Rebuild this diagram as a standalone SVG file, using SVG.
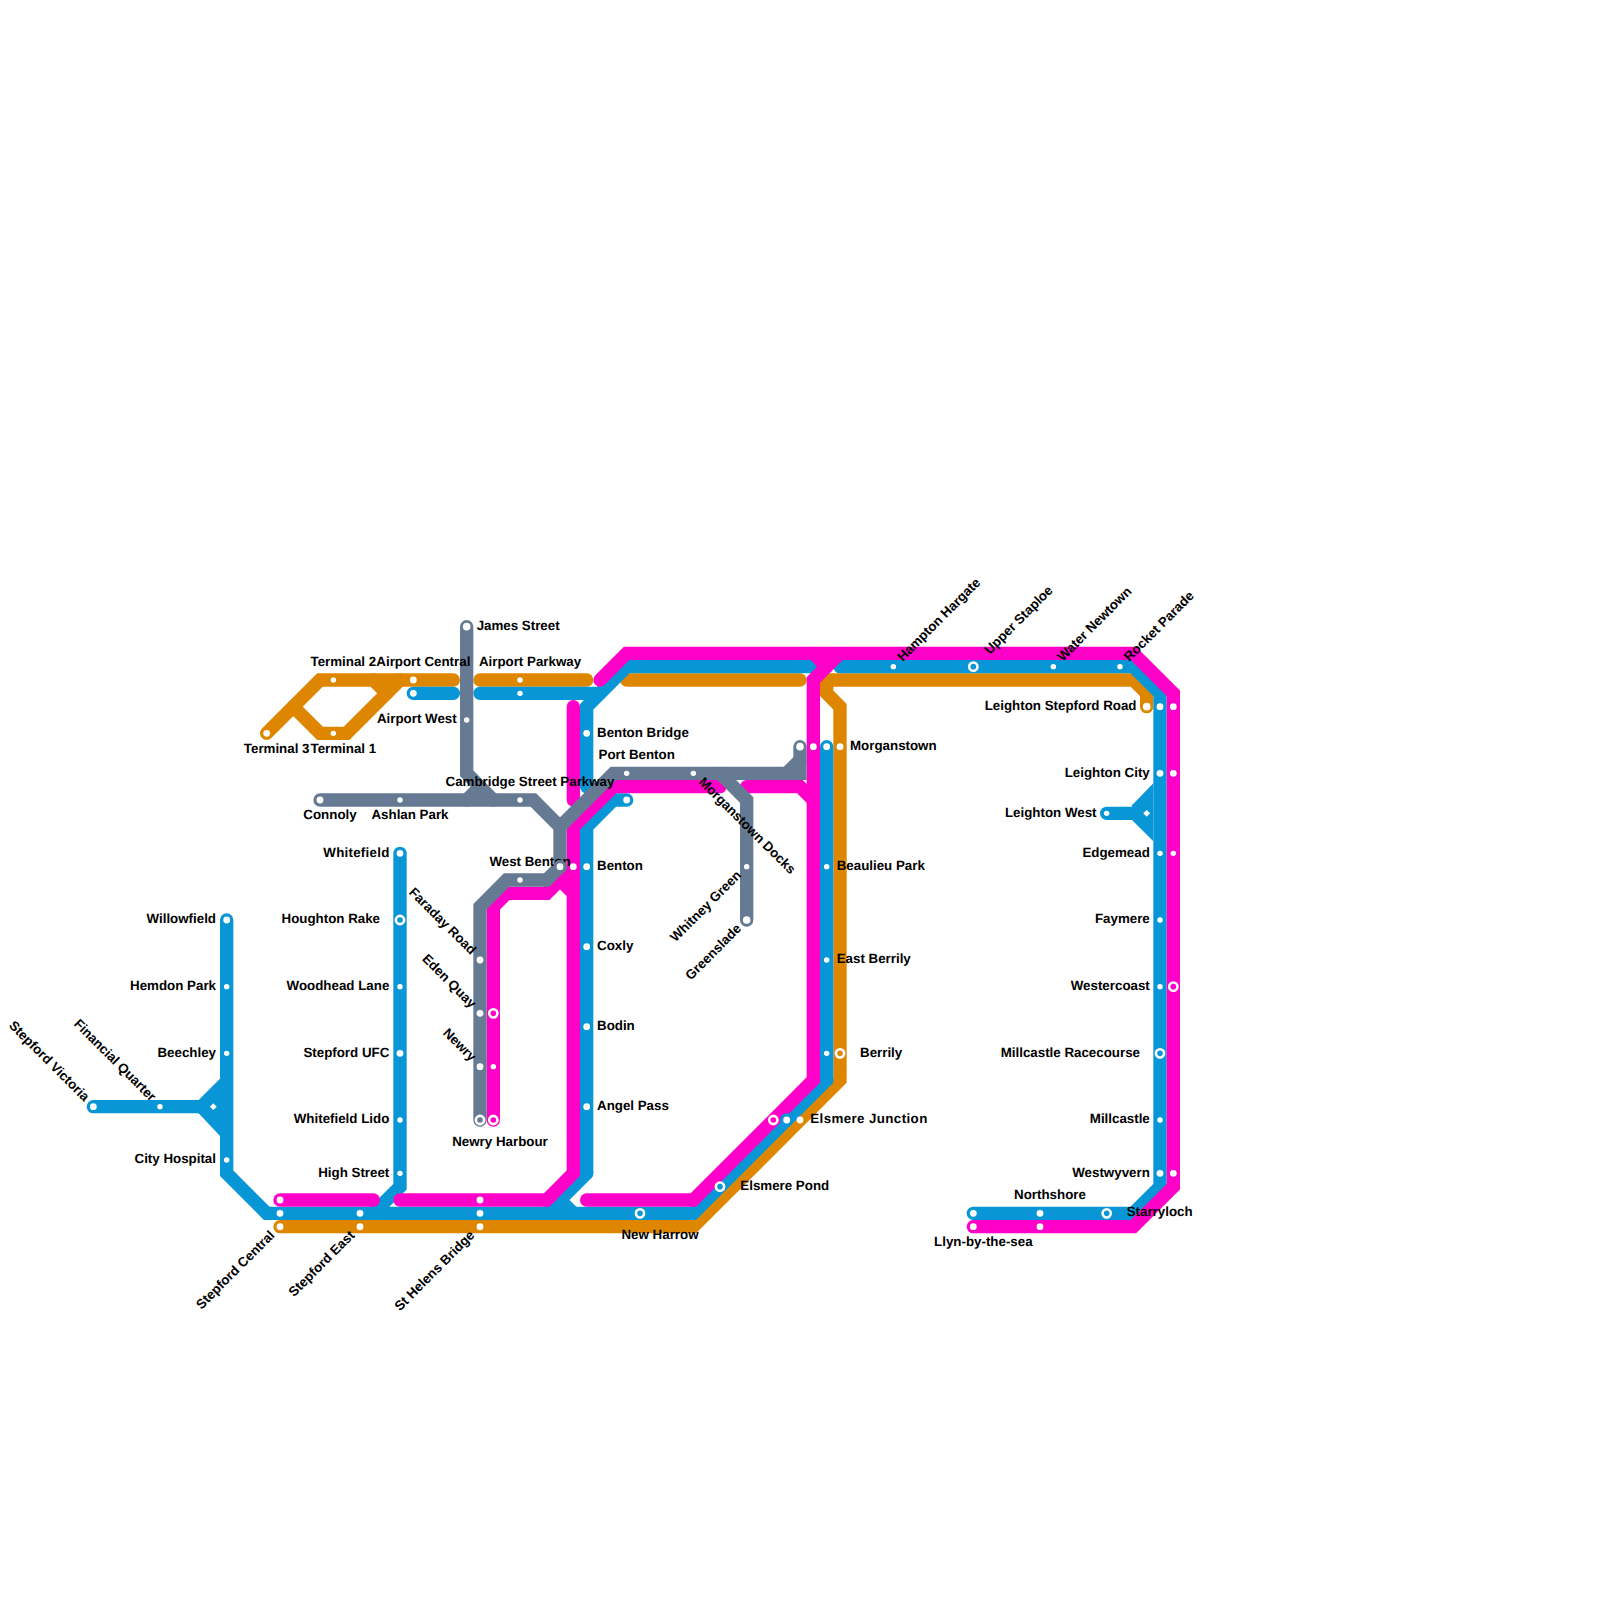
<svg xmlns="http://www.w3.org/2000/svg" width="1600" height="1600" viewBox="0 0 1600 1600">
<style>
text{font-family:"Liberation Sans",Arial,sans-serif;font-weight:bold;font-size:13.33px;fill:#000;text-rendering:geometricPrecision}
.e{text-anchor:end}.c{text-anchor:middle}
.ln{fill:none;stroke-width:1;stroke-linecap:round;stroke-linejoin:miter}
.o{stroke:#df8600}.b{stroke:#0896d7}.p{stroke:#ff00c8}.g{stroke:#677a94}
.rb,.rp,.rg,.ro{stroke:#fff;stroke-width:2.6}
.rb{fill:#0896d7}.rp{fill:#ff00c8}.rg{fill:#677a94}.ro{fill:#df8600}
</style>
<defs>
<circle id="s" r="2.7" fill="#fff"/>
<circle id="m" r="3.4" fill="#fff"/>
<circle id="l" r="3.8" fill="#fff"/>
<circle id="r" r="4.1"/>
<path id="d" d="M0-3.4L3.4 0L0 3.4L-3.4 0Z" fill="#fff"/>
</defs>
<rect width="1600" height="1600" fill="#fff"/>
<g id="connectors" transform="scale(13.33333)">
<g class="ln o">
<path d="M20 55L24 51L34 51"/>
<path d="M22 53L24 55L26 55L30 51"/>
<path d="M28 51L29 52"/>
<path d="M36 51L44 51"/>
<path d="M47 51L60 51"/>
<path d="M21 92L52 92L63 81L63 53L62 52L62 51"/>
<path d="M62 51L85 51L86 52L86 53"/>
</g>
<g class="ln b">
<path d="M17 69L17 88L20 91L52 91L62 81L62 56"/>
<path d="M30 64L30 89L28 91"/>
<path d="M7 83L15 83"/>
<path d="M31 52L34 52"/>
<path d="M36 52L45 52"/>
<path d="M44 88L44 62L46 60L47 60"/>
<path d="M44 88L42 90L43 91"/>
<path d="M42 90L41 91"/>
<path d="M44 59L44 53L47 50L61 50"/>
<path d="M63 50L85 50L87 52L87 89L85 91L73 91"/>
<path d="M83 61L85 61"/>
<path d="M16.5 80.9L14.9 82.5L14.9 83.5L16.5 85.2Z" fill="#0896d7" stroke="none"/>
<path d="M86.5 58.75L84.9 60.4L84.9 61.5L86.5 63.1Z" fill="#0896d7" stroke="none"/>
</g>
<g class="ln p">
<path d="M45 51L47 49L85 49L88 52L88 89L85 92L73 92"/>
<path d="M61 49L62 50"/>
<path d="M44 90L52 90L61 81L61 51L63 49"/>
<path d="M56 59L60 59L61 60"/>
<path d="M21 90L28 90"/>
<path d="M30 90L41 90L43 88L43 62L46 59L54 59"/>
<path d="M43 53L43 60"/>
<path d="M37 84L37 68L38 67L41 67L43 65"/>
<path d="M42 66L43 67"/>
</g>
<g class="ln g">
<path d="M35 47L35 58L37 60"/>
<path d="M36 59L35 60"/>
<path d="M24 60L40 60L42 62L42 65L41 66L38 66L36 68L36 84"/>
<path d="M42 62L46 58L60 58L60 56"/>
<path d="M59 58L60 57"/>
<path d="M54 58L56 60L56 69"/>
</g>
</g>
<g id="stations">
<g id="n-terminal-3"><use href="#m" x="266.67" y="733.33"/><text class="c" x="276.67" y="752.7">Terminal 3</text></g>
<g id="n-terminal-1"><use href="#s" x="333.33" y="733.33"/><text class="c" x="343.33" y="752.7">Terminal 1</text></g>
<g id="n-terminal-2"><use href="#s" x="333.33" y="680"/><text class="c" x="343.33" y="666">Terminal 2</text></g>
<g id="n-airport-central"><use href="#m" x="413.33" y="680"/><use href="#m" x="413.33" y="693.33"/><text class="c" x="423.33" y="666">Airport Central</text></g>
<g id="n-airport-parkway"><use href="#s" x="520" y="680"/><use href="#s" x="520" y="693.33"/><text class="c" x="530" y="666">Airport Parkway</text></g>
<g id="n-james-street"><use href="#l" x="466.67" y="626.67"/><text x="476.67" y="630">James Street</text></g>
<g id="n-airport-west"><use href="#s" x="466.67" y="720"/><text class="e" x="456.67" y="723">Airport West</text></g>
<g id="n-connoly"><use href="#m" x="320" y="800"/><text class="c" x="330" y="819.3">Connoly</text></g>
<g id="n-ashlan-park"><use href="#s" x="400" y="800"/><text class="c" x="410" y="819.3">Ashlan Park</text></g>
<g id="n-cambridge"><use href="#s" x="520" y="800"/><text class="c" x="530" y="786">Cambridge Street Parkway</text></g>
<g id="n-west-benton"><text class="c" x="530" y="866">West Benton</text><circle cx="560" cy="866.67" r="6.67" fill="#677a94"/><use href="#m" x="560" y="866.67"/><use href="#s" x="520" y="880"/></g>
<g id="n-benton"><use href="#m" x="573.33" y="866.67"/><use href="#m" x="586.67" y="866.67"/><text x="597" y="870">Benton</text></g>
<g id="n-benton-bridge"><use href="#m" x="586.67" y="733.33"/><text x="597" y="736.5">Benton Bridge</text></g>
<g id="n-port-benton"><use href="#s" x="626.67" y="773.33"/><use href="#m" x="626.67" y="800"/><text class="c" x="636.67" y="759.3">Port Benton</text></g>
<g id="n-morganstown-docks"><use href="#s" x="693.33" y="773.33"/><text transform="translate(700.3 780.3) rotate(45)" y="3.3">Morganstown Docks</text></g>
<g id="n-whitney-green"><use href="#s" x="746.67" y="866.67"/><text class="e" transform="translate(739.7 873.7) rotate(-45)" y="3.3">Whitney Green</text></g>
<g id="n-greenslade"><use href="#l" x="746.67" y="920"/><text class="e" transform="translate(739.7 927) rotate(-45)" y="3.3">Greenslade</text></g>
<g id="n-morganstown"><use href="#l" x="800" y="746.67"/><use href="#m" x="813.33" y="746.67"/><use href="#m" x="826.67" y="746.67"/><use href="#m" x="840" y="746.67"/><text x="850" y="750">Morganstown</text></g>
<g id="n-beaulieu-park"><use href="#s" x="826.67" y="866.67"/><text x="836.7" y="870">Beaulieu Park</text></g>
<g id="n-east-berrily"><use href="#s" x="826.67" y="960"/><text x="836.7" y="963">East Berrily</text></g>
<g id="n-berrily"><use href="#s" x="826.67" y="1053.33"/><use href="#r" class="ro" x="840" y="1053.33"/><text x="860" y="1056.5">Berrily</text></g>
<g id="n-coxly"><use href="#m" x="586.67" y="946.67"/><text x="597" y="950">Coxly</text></g>
<g id="n-bodin"><use href="#m" x="586.67" y="1026.67"/><text x="597" y="1030">Bodin</text></g>
<g id="n-angel-pass"><use href="#m" x="586.67" y="1106.67"/><text x="597" y="1110">Angel Pass</text></g>
<g id="n-faraday-road"><use href="#m" x="480" y="960"/><text class="e" transform="translate(473 953) rotate(45)" y="3.3">Faraday Road</text></g>
<g id="n-eden-quay"><use href="#m" x="480" y="1013.33"/><use href="#r" class="rp" x="493.33" y="1013.33"/><text class="e" transform="translate(473 1006.3) rotate(45)" y="3.3">Eden Quay</text></g>
<g id="n-newry"><use href="#m" x="480" y="1066.67"/><use href="#s" x="493.33" y="1066.67"/><text class="e" transform="translate(473 1059.7) rotate(45)" y="3.3">Newry</text></g>
<g id="n-newry-harbour"><use href="#r" class="rg" x="480" y="1120"/><use href="#r" class="rp" x="493.33" y="1120"/><text class="c" x="500" y="1146.3">Newry Harbour</text></g>
<g id="n-whitefield"><use href="#m" x="400" y="853.33"/><text class="e" x="389.3" y="856.5" textLength="66" lengthAdjust="spacing">Whitefield</text></g>
<g id="n-houghton-rake"><use href="#r" class="rb" x="400" y="920"/><text class="e" x="380" y="923">Houghton Rake</text></g>
<g id="n-woodhead-lane"><use href="#s" x="400" y="986.67"/><text class="e" x="389.3" y="990">Woodhead Lane</text></g>
<g id="n-stepford-ufc"><use href="#m" x="400" y="1053.33"/><text class="e" x="389.3" y="1056.5">Stepford UFC</text></g>
<g id="n-whitefield-lido"><use href="#s" x="400" y="1120"/><text class="e" x="389.3" y="1123">Whitefield Lido</text></g>
<g id="n-high-street"><use href="#s" x="400" y="1173.33"/><text class="e" x="389.3" y="1176.5">High Street</text></g>
<g id="n-willowfield"><use href="#m" x="226.67" y="920"/><text class="e" x="216" y="923">Willowfield</text></g>
<g id="n-hemdon-park"><use href="#s" x="226.67" y="986.67"/><text class="e" x="216" y="990">Hemdon Park</text></g>
<g id="n-beechley"><use href="#s" x="226.67" y="1053.33"/><text class="e" x="216" y="1056.5">Beechley</text></g>
<g id="n-city-hospital"><use href="#s" x="226.67" y="1160"/><text class="e" x="216" y="1163">City Hospital</text></g>
<g id="n-interchange-west"><use href="#d" x="213.33" y="1106.67"/></g>
<g id="n-financial-quarter"><use href="#s" x="160" y="1106.67"/><text class="e" transform="translate(153 1099.7) rotate(45)" y="3.3">Financial Quarter</text></g>
<g id="n-stepford-victoria"><use href="#m" x="93.33" y="1106.67"/><text class="e" transform="translate(86.3 1099.7) rotate(45)" y="3.3">Stepford Victoria</text></g>
<g id="n-stepford-central"><use href="#m" x="280" y="1200"/><use href="#m" x="280" y="1213.33"/><use href="#m" x="280" y="1226.67"/><text class="e" transform="translate(273 1233.7) rotate(-45)" y="3.3">Stepford Central</text></g>
<g id="n-stepford-east"><use href="#m" x="360" y="1213.33"/><use href="#m" x="360" y="1226.67"/><text class="e" transform="translate(353 1233.7) rotate(-45)" y="3.3">Stepford East</text></g>
<g id="n-st-helens-bridge"><use href="#m" x="480" y="1200"/><use href="#m" x="480" y="1213.33"/><use href="#m" x="480" y="1226.67"/><text class="e" transform="translate(473 1233.7) rotate(-45)" y="3.3">St Helens Bridge</text></g>
<g id="n-new-harrow"><use href="#r" class="rb" x="640" y="1213.33"/><text class="c" x="660" y="1239.3">New Harrow</text></g>
<g id="n-elsmere-pond"><use href="#r" class="rb" x="720" y="1186.67"/><text x="740.3" y="1189.8">Elsmere Pond</text></g>
<g id="n-elsmere-junction"><circle cx="786.67" cy="1120" r="6.67" fill="#0896d7"/><use href="#r" class="rp" x="773.33" y="1120"/><use href="#m" x="786.67" y="1120"/><use href="#m" x="800" y="1120"/><text x="810.3" y="1123.3" textLength="117" lengthAdjust="spacing">Elsmere Junction</text></g>
<g id="n-hampton-hargate"><use href="#s" x="893.33" y="666.67"/><text transform="translate(900.3 659.7) rotate(-45)" y="3.3">Hampton Hargate</text></g>
<g id="n-upper-staploe"><use href="#r" class="rb" x="973.33" y="666.67"/><text transform="translate(987.3 652.7) rotate(-45)" y="3.3">Upper Staploe</text></g>
<g id="n-water-newtown"><use href="#s" x="1053.33" y="666.67"/><text transform="translate(1060.3 659.7) rotate(-45)" y="3.3">Water Newtown</text></g>
<g id="n-rocket-parade"><use href="#s" x="1120" y="666.67"/><text transform="translate(1127 659.7) rotate(-45)" y="3.3">Rocket Parade</text></g>
<g id="n-leighton-stepford-road"><use href="#l" x="1146.67" y="706.67"/><use href="#m" x="1160" y="706.67"/><use href="#m" x="1173.33" y="706.67"/><text class="e" x="1136.5" y="710">Leighton Stepford Road</text></g>
<g id="n-leighton-city"><use href="#m" x="1160" y="773.33"/><use href="#m" x="1173.33" y="773.33"/><text class="e" x="1149.8" y="776.5">Leighton City</text></g>
<g id="n-leighton-west"><use href="#s" x="1106.67" y="813.33"/><text class="e" x="1096.5" y="816.5">Leighton West</text></g>
<g id="n-interchange-east"><use href="#d" x="1146.67" y="813.33"/></g>
<g id="n-edgemead"><use href="#s" x="1160" y="853.33"/><use href="#s" x="1173.33" y="853.33"/><text class="e" x="1149.8" y="856.5">Edgemead</text></g>
<g id="n-faymere"><use href="#s" x="1160" y="920"/><text class="e" x="1149.8" y="923">Faymere</text></g>
<g id="n-westercoast"><use href="#s" x="1160" y="986.67"/><use href="#r" class="rp" x="1173.33" y="986.67"/><text class="e" x="1149.8" y="990">Westercoast</text></g>
<g id="n-millcastle-racecourse"><use href="#r" class="rb" x="1160" y="1053.33"/><text class="e" x="1140" y="1056.5">Millcastle Racecourse</text></g>
<g id="n-millcastle"><use href="#s" x="1160" y="1120"/><text class="e" x="1149.8" y="1123">Millcastle</text></g>
<g id="n-westwyvern"><use href="#m" x="1160" y="1173.33"/><use href="#m" x="1173.33" y="1173.33"/><text class="e" x="1149.8" y="1176.5">Westwyvern</text></g>
<g id="n-starryloch"><use href="#r" class="rb" x="1106.67" y="1213.33"/><text x="1126.67" y="1216.3">Starryloch</text></g>
<g id="n-northshore"><use href="#m" x="1040" y="1213.33"/><use href="#m" x="1040" y="1226.67"/><text class="c" x="1050" y="1199.3">Northshore</text></g>
<g id="n-llyn-by-the-sea"><use href="#m" x="973.33" y="1213.33"/><use href="#m" x="973.33" y="1226.67"/><text class="c" x="983.33" y="1246">Llyn-by-the-sea</text></g>
</g>
</svg>
